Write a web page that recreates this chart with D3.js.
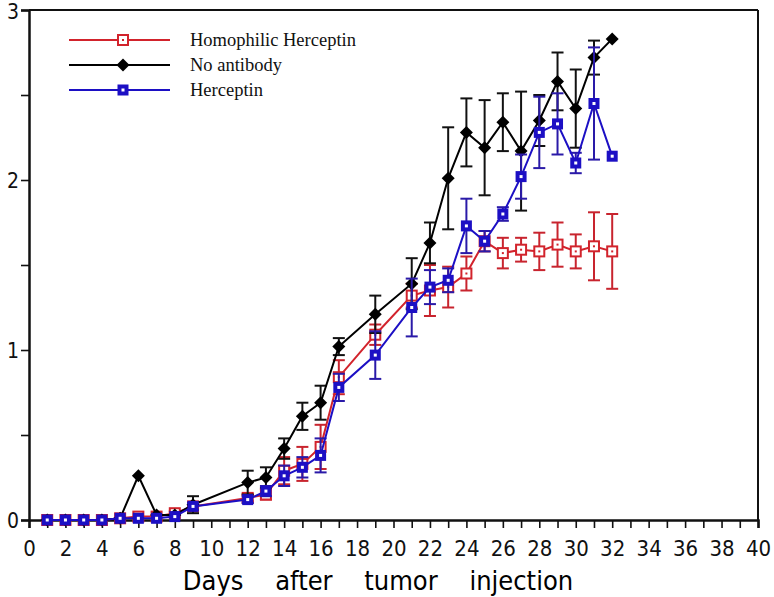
<!DOCTYPE html>
<html>
<head>
<meta charset="utf-8">
<script src="https://cdn.jsdelivr.net/npm/d3@7"></script>
<style>
  html, body { margin: 0; padding: 0; background: #fff; }
  svg { display: block; }
</style>
</head>
<body>
<svg id="chart" width="774" height="597"></svg>
<script>
const days = [1,2,3,4,5,6,7,8,9,12,13,14,15,16,17,19,21,22,23,24,25,26,27,28,29,30,31,32];

const homoMean = [0,0,0,0,0.01,0.02,0.02,0.04,0.08,0.13,0.15,0.29,0.33,0.43,0.84,1.09,1.32,1.35,1.37,1.45,1.64,1.57,1.59,1.58,1.62,1.58,1.61,1.58];
const homoErr  = [0,0,0,0,0,0,0,0.01,0.02,0.02,0.03,0.08,0.10,0.13,0.10,0.06,0.07,0.15,0.12,0.10,0.06,0.09,0.07,0.11,0.13,0.10,0.20,0.22];

const noAbMean = [0,0,0,0,0.01,0.26,0.03,0.03,0.09,0.22,0.25,0.42,0.61,0.69,1.02,1.21,1.39,1.63,2.01,2.28,2.19,2.34,2.17,2.35,2.58,2.42,2.72,2.83];
const noAbErr  = [0,0,0,0,0,0,0,0,0.05,0.07,0.06,0.06,0.08,0.10,0.05,0.11,0.15,0.12,0.30,0.20,0.28,0.17,0.35,0.15,0.17,0.23,0.10,0];

const hercMean = [0,0,0,0,0.01,0.01,0.01,0.02,0.08,0.12,0.17,0.26,0.31,0.38,0.78,0.97,1.25,1.37,1.41,1.73,1.64,1.80,2.02,2.28,2.33,2.10,2.45,2.14];
const hercErr  = [0,0,0,0,0,0,0,0,0.02,0.02,0.03,0.06,0.06,0.10,0.08,0.14,0.17,0.10,0.07,0.16,0.06,0.04,0.13,0.21,0.18,0.06,0.33,0];

const seriesNames = ["Homophilic Herceptin", "No antibody", "Herceptin"];
const xTickLabels = d3.range(0, 41, 2);
const yTickLabels = [0, 1, 2, 3];
const xTitle = "Days after tumor injection";

const colors = { homo: "#d2232c", noab: "#000000", herc: "#1c0fc4" };

const svg = d3.select("#chart");
const pLeft = 29, pRight = 758, pTop = 10, pBottom = 520;
const x = d3.scaleLinear().domain([0, 40]).range([pLeft, pRight]);
const y = d3.scaleLinear().domain([0, 3]).range([pBottom, pTop]);

// frame top & right
svg.append("line").attr("x1", pLeft).attr("x2", pRight).attr("y1", pTop).attr("y2", pTop)
  .attr("stroke", "#111").attr("stroke-width", 2);
svg.append("line").attr("x1", pRight).attr("x2", pRight).attr("y1", pTop).attr("y2", pBottom)
  .attr("stroke", "#111").attr("stroke-width", 2);

// x axis
const xAxis = d3.axisBottom(x).tickValues(d3.range(0, 41, 1)).tickSize(8)
  .tickFormat(d => xTickLabels.includes(d) ? d : "");
const gx = svg.append("g").attr("transform", `translate(0,${pBottom})`).call(xAxis);
gx.select(".domain").attr("stroke", "#111").attr("stroke-width", 2.5);
gx.selectAll(".tick line").attr("stroke", "#111").attr("stroke-width", 1.6);
gx.selectAll(".tick text").attr("font-family", "'Liberation Sans Narrow', 'DejaVu Sans Condensed', sans-serif")
  .attr("font-size", 22).attr("fill", "#111").attr("dy", 0).attr("y", 36);

// y axis
const yAxis = d3.axisLeft(y).tickValues(d3.range(0, 3.01, 0.5)).tickSize(8)
  .tickFormat(d => yTickLabels.includes(d) ? d : "");
const gy = svg.append("g").attr("transform", `translate(${pLeft},0)`).call(yAxis);
gy.select(".domain").attr("stroke", "#111").attr("stroke-width", 2.5);
gy.selectAll(".tick line").attr("stroke", "#111").attr("stroke-width", 1.6);
gy.selectAll(".tick text").attr("font-family", "'Liberation Sans Narrow', 'DejaVu Sans Condensed', sans-serif")
  .attr("font-size", 21).attr("fill", "#111").attr("x", -10).attr("dy", d => d === 3 ? "0.42em" : "0.35em");

// axis title
svg.append("text").attr("x", 378).attr("y", 590)
  .attr("text-anchor", "middle")
  .attr("font-family", "'DejaVu Sans Condensed', 'Liberation Sans Narrow', sans-serif")
  .attr("font-size", 27).attr("word-spacing", 24).attr("fill", "#000")
  .text(xTitle);

const line = d3.line().x(d => x(d.day)).y(d => y(d.v));

function drawMarkerShape(m, color, marker) {
  if (marker === "hollow") {
    m.append("rect").attr("x", -5).attr("y", -5).attr("width", 10).attr("height", 10)
      .attr("fill", "#fff").attr("stroke", color).attr("stroke-width", 2);
    m.append("rect").attr("x", -1).attr("y", -1).attr("width", 2).attr("height", 2).attr("fill", color);
  } else if (marker === "diamond") {
    m.append("path").attr("d", "M0,-6.5L6.5,0L0,6.5L-6.5,0Z").attr("fill", color);
  } else {
    m.append("rect").attr("x", -5.5).attr("y", -5.5).attr("width", 11).attr("height", 11)
      .attr("fill", color);
    m.append("rect").attr("x", -1.5).attr("y", -1.5).attr("width", 3).attr("height", 3).attr("fill", "#fff");
  }
}

function drawSeries(means, errs, color, errColor, marker) {
  const data = days.map((d, i) => ({ day: d, v: means[i], e: errs[i] }));
  const g = svg.append("g");
  const eb = g.selectAll(".eb").data(data.filter(d => d.e > 0)).join("g");
  eb.append("line").attr("x1", d => x(d.day)).attr("x2", d => x(d.day))
    .attr("y1", d => y(d.v + d.e)).attr("y2", d => y(d.v - d.e))
    .attr("stroke", errColor).attr("stroke-width", 2);
  [1, -1].forEach(s => {
    eb.append("line").attr("x1", d => x(d.day) - 6).attr("x2", d => x(d.day) + 6)
      .attr("y1", d => y(d.v + s * d.e)).attr("y2", d => y(d.v + s * d.e))
      .attr("stroke", errColor).attr("stroke-width", 2);
  });
  g.append("path").datum(data).attr("d", line).attr("fill", "none")
    .attr("stroke", color).attr("stroke-width", 2);
  const m = g.selectAll(".m").data(data).join("g")
    .attr("transform", d => `translate(${x(d.day)},${y(d.v)})`);
  drawMarkerShape(m, color, marker);
}

drawSeries(homoMean, homoErr, colors.homo, "#c8242e", "hollow");
drawSeries(noAbMean, noAbErr, colors.noab, "#111", "diamond");
drawSeries(hercMean, hercErr, colors.herc, "#2a1aa8", "filled");

// legend
const legend = [
  { name: seriesNames[0], color: colors.homo, marker: "hollow" },
  { name: seriesNames[1], color: colors.noab, marker: "diamond" },
  { name: seriesNames[2], color: colors.herc, marker: "filled" }
];
legend.forEach((L, i) => {
  const yy = 40 + i * 25;
  svg.append("line").attr("x1", 69).attr("x2", 170).attr("y1", yy).attr("y2", yy)
    .attr("stroke", L.color).attr("stroke-width", 2);
  const m = svg.append("g").attr("transform", `translate(123,${yy})`);
  drawMarkerShape(m, L.color, L.marker);
  svg.append("text").attr("x", 190).attr("y", yy + 6)
    .attr("font-family", "'Liberation Serif', 'Times New Roman', serif")
    .attr("font-size", 18.5).attr("fill", "#111").text(L.name);
});
</script>
</body>
</html>
